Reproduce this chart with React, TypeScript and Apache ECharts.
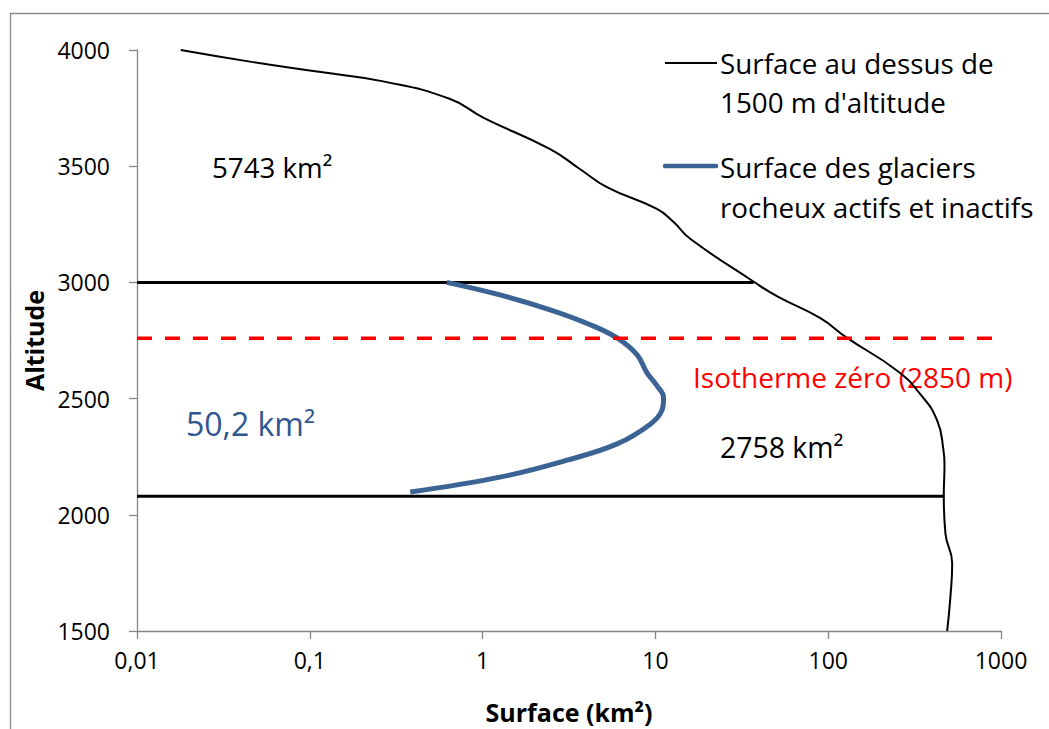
import React, { useEffect, useRef } from "react";
import * as echarts from "echarts";

// Surface above 1500 m altitude (black curve)
const totalAltitude = [4000, 3950, 3907, 3865, 3789, 3709, 3573, 3487, 3410, 3316, 3261, 3188, 3004, 2940, 2846, 2761, 2620, 2518, 2406, 2278, 2218, 2077, 1919, 1791, 1650, 1500];
const totalSurface = [0.0179, 0.045, 0.11, 0.266, 0.649, 1.008, 2.46, 3.67, 5.24, 10.2, 12.7, 15.9, 36.9, 50.8, 90.1, 128.6, 250.6, 342, 427, 464.5, 471, 466.5, 477, 521.7, 510, 488];

// Rock glaciers surface (blue curve)
const glacierAltitude = [3000, 2946, 2882, 2818, 2761, 2689, 2611, 2556, 2504, 2449, 2390, 2305, 2235, 2162, 2098];
const glacierSurface = [0.621, 1.26, 2.46, 4.2, 6.0, 7.82, 8.94, 10.2, 11.15, 10.9, 9.34, 6.0, 3.08, 1.26, 0.381];

// Horizontal limits
const upperLimit = { altitude: 3000, from: 0.01, to: 37 };
const lowerLimit = { altitude: 2080, from: 0.01, to: 470 };
const isotherm = { altitude: 2760, from: 0.01, to: 1000 };

const yTicks = { min: 1500, max: 4000, interval: 500 };
const xRange = { min: 0.01, max: 1000 };

const legendNames = [
  ["Surface au dessus de", "1500 m d'altitude"],
  ["Surface des glaciers", "rocheux actifs et inactifs"],
];
const annotations = {
  upper: "5743 km²",
  lower: "2758 km²",
  glacier: "50,2 km²",
  isotherm: "Isotherme zéro (2850 m)",
};

const FONT = '"Open Sans", "Liberation Sans", sans-serif';
const BLUE = "#3b6494";
const GRAY = "#868686";

function pairs(xs: number[], ys: number[]) {
  return xs.map((x, i) => [x, ys[i]]);
}

function txt(text: string, x: number, y: number, size: number, fill: string, align = "left") {
  return {
    type: "text",
    silent: true,
    style: {
      text,
      x,
      y,
      fill,
      font: `${size}px ${FONT}`,
      textAlign: align,
      textVerticalAlign: "middle",
      align,
      verticalAlign: "middle",
    },
  };
}

export default function App() {
  const ref = useRef<HTMLDivElement>(null);
  useEffect(() => {
    if (!ref.current) return;
    const chart = echarts.init(ref.current, null, { renderer: "svg" });
    const option = {
      animation: false,
      backgroundColor: "#ffffff",
      textStyle: { fontFamily: FONT },
      grid: { left: 137, width: 864, top: 50, height: 585, containLabel: false },
      xAxis: {
        type: "log",
        logBase: 10,
        min: xRange.min,
        max: xRange.max,
        name: "Surface (km²)",
        nameLocation: "middle",
        nameGap: 68,
        nameTextStyle: { fontSize: 25, fontWeight: "bold", color: "#000", fontFamily: FONT },
        axisLine: { show: true, lineStyle: { color: GRAY, width: 1.3 } },
        axisTick: { show: true, length: 8, lineStyle: { color: GRAY, width: 1.3 } },
        minorTick: { show: false },
        splitLine: { show: false },
        axisLabel: {
          fontSize: 23,
          color: "#000",
          margin: 17,
          fontFamily: FONT,
          formatter: (v: number) => String(+Number(v).toPrecision(3)).replace(".", ","),
        },
      },
      yAxis: {
        type: "value",
        min: yTicks.min,
        max: yTicks.max,
        interval: yTicks.interval,
        name: "Altitude",
        nameLocation: "middle",
        nameRotate: 90,
        nameGap: 90,
        nameTextStyle: { fontSize: 25, fontWeight: "bold", color: "#000", fontFamily: FONT },
        axisLine: { show: true, lineStyle: { color: GRAY, width: 1.3 } },
        axisTick: { show: true, length: 8, lineStyle: { color: GRAY, width: 1.3 } },
        splitLine: { show: false },
        axisLabel: {
          fontSize: 23,
          color: "#000",
          margin: 27,
          fontFamily: FONT,
          formatter: (v: number) => String(v),
        },
      },
      series: [
        {
          type: "line",
          name: "upper",
          data: [[upperLimit.from, upperLimit.altitude], [upperLimit.to, upperLimit.altitude]],
          symbol: "none",
          lineStyle: { color: "#000", width: 3 },
          z: 2,
        },
        {
          type: "line",
          name: "lower",
          data: [[lowerLimit.from, lowerLimit.altitude], [lowerLimit.to, lowerLimit.altitude]],
          symbol: "none",
          lineStyle: { color: "#000", width: 3 },
          z: 2,
        },
        {
          type: "line",
          name: "Surface au dessus de 1500 m d'altitude",
          data: pairs(totalSurface, totalAltitude),
          symbol: "none",
          smooth: 0.5,
          lineStyle: { color: "#000", width: 2 },
          z: 3,
        },
        {
          type: "line",
          name: "Surface des glaciers rocheux actifs et inactifs",
          data: pairs(glacierSurface, glacierAltitude),
          symbol: "none",
          smooth: 0.4,
          lineStyle: { color: BLUE, width: 5 },
          z: 4,
        },
        {
          type: "line",
          name: "isotherm",
          data: [[isotherm.from, isotherm.altitude], [isotherm.to, isotherm.altitude]],
          symbol: "none",
          lineStyle: { color: "#ff0000", width: 3.5, type: [15, 13] },
          z: 5,
        },
      ],
      graphic: [
        {
          type: "rect",
          silent: true,
          shape: { x: 10.5, y: 13.5, width: 1200, height: 900 },
          style: { fill: "none", stroke: "#8a8a8a", lineWidth: 1.3 },
          z: -1,
        },
        {
          type: "line",
          silent: true,
          shape: { x1: 665, y1: 63, x2: 717, y2: 63 },
          style: { stroke: "#000", lineWidth: 2 },
        },
        txt(legendNames[0][0], 720, 63, 27.8, "#000"),
        txt(legendNames[0][1], 720, 102, 27.8, "#000"),
        {
          type: "line",
          silent: true,
          shape: { x1: 665, y1: 166, x2: 716, y2: 166 },
          style: { stroke: BLUE, lineWidth: 4.5, lineCap: "round" },
        },
        txt(legendNames[1][0], 720, 167, 27.8, "#000"),
        txt(legendNames[1][1], 720, 207, 27.8, "#000"),
        txt(annotations.upper, 212, 167, 27.7, "#000"),
        txt(annotations.lower, 720, 447, 28.4, "#000"),
        txt(annotations.glacier, 186, 423, 32, "#2f5690"),
        txt(annotations.isotherm, 693, 377, 28, "#ff0000"),
      ],
    };
    chart.setOption(option as any);
    return () => chart.dispose();
  }, []);
  return (
    <div
      ref={ref}
      style={{ position: "fixed", left: 0, top: 0, width: 1049, height: 729 }}
    />
  );
}
